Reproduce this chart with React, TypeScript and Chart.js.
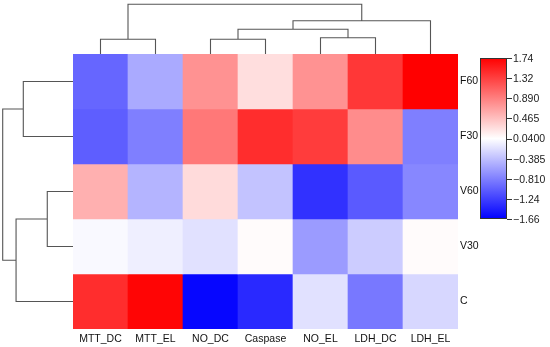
import React, { useEffect, useRef } from "react";
import { Chart, registerables } from "chart.js";

Chart.register(...registerables);

// ---- data ----
const columns = ["MTT_DC", "MTT_EL", "NO_DC", "Caspase", "NO_EL", "LDH_DC", "LDH_EL"];
const rows = ["F60", "F30", "V60", "V30", "C"];
const rowF60 = [-0.98, -0.53, 0.77, 0.26, 0.77, 1.37, 1.74];
const rowF30 = [-1.03, -0.81, 0.94, 1.44, 1.34, 0.81, -0.81];
const rowV60 = [0.57, -0.46, 0.28, -0.36, -1.33, -1.06, -0.76];
const rowV30 = [0.0, -0.07, -0.16, 0.07, -0.63, -0.3, 0.07];
const rowC = [1.44, 1.71, -1.62, -1.39, -0.16, -0.86, -0.23];
const colorbarTicks = [1.74, 1.32, 0.89, 0.465, 0.04, -0.385, -0.81, -1.24, -1.66];
const colorbarLabels = ["1.74", "1.32", "0.890", "0.465", "0.0400", "\u22120.385", "\u22120.810", "\u22121.24", "\u22121.66"];
const colorMin = -1.66;
const colorMax = 1.74;
// dendrogram merges: [childA, childB, height]; leaves are 0..n-1, merges n, n+1, ...
const colMerges = [
  [0, 1, 2.96],
  [2, 3, 2.96],
  [4, 5, 3.28],
  [8, 9, 4.97],
  [10, 6, 6.7],
  [7, 11, 10],
];
const rowMerges = [
  [0, 1, 7.07],
  [2, 3, 3.66],
  [6, 4, 8.1],
  [5, 7, 10],
];

const matrix = [rowF60, rowF30, rowV60, rowV30, rowC];

function colorFor(v: number): string {
  const mid = (colorMin + colorMax) / 2;
  if (v >= mid) {
    const t = Math.min(1, (v - mid) / (colorMax - mid));
    const g = Math.round(255 * (1 - t));
    return `rgb(255,${g},${g})`;
  }
  const t = Math.min(1, (mid - v) / (mid - colorMin));
  const g = Math.round(255 * (1 - t));
  return `rgb(${g},${g},255)`;
}

const FONT = "Arial, 'Liberation Sans', sans-serif";

function drawDendro(
  ctx: CanvasRenderingContext2D,
  merges: number[][],
  leafPos: (i: number) => number,
  nLeaves: number,
  point: (pos: number, h: number) => [number, number]
) {
  const pos: number[] = [];
  const hts: number[] = [];
  for (let i = 0; i < nLeaves; i++) {
    pos.push(leafPos(i));
    hts.push(0);
  }
  ctx.beginPath();
  merges.forEach(([a, b, h]) => {
    const pa = pos[a], pb = pos[b];
    const p1 = point(pa, hts[a]);
    const p2 = point(pa, h);
    const p3 = point(pb, h);
    const p4 = point(pb, hts[b]);
    ctx.moveTo(p1[0], p1[1]);
    ctx.lineTo(p2[0], p2[1]);
    ctx.lineTo(p3[0], p3[1]);
    ctx.lineTo(p4[0], p4[1]);
    pos.push((pa + pb) / 2);
    hts.push(h);
  });
  ctx.stroke();
}

const extrasPlugin = {
  id: "extras",
  afterDraw(chart: any) {
    const ctx: CanvasRenderingContext2D = chart.ctx;
    const area = chart.chartArea;
    const xs = chart.scales.x;
    const ys = chart.scales.y;
    ctx.save();
    ctx.strokeStyle = "#555";
    ctx.lineWidth = 1.1;
    // top dendrogram
    const topMax = Math.max(...colMerges.map((m) => m[2]));
    const topK = (area.top - 4.3) / topMax;
    drawDendro(ctx, colMerges, (i) => xs.getPixelForValue(i), columns.length, (p, h) => [p, area.top - h * topK]);
    // left dendrogram
    const leftMax = Math.max(...rowMerges.map((m) => m[2]));
    const leftK = (area.left - 2.7) / leftMax;
    drawDendro(ctx, rowMerges, (i) => ys.getPixelForValue(i + 0.5), rows.length, (p, h) => [area.left - h * leftK, p]);

    // colorbar
    const cbL = 480, cbR = 507, cbT = 58, cbB = 219;
    const grad = ctx.createLinearGradient(0, cbT, 0, cbB);
    grad.addColorStop(0, colorFor(colorMax));
    grad.addColorStop(0.5, colorFor((colorMax + colorMin) / 2));
    grad.addColorStop(1, colorFor(colorMin));
    ctx.fillStyle = grad;
    ctx.fillRect(cbL, cbT, cbR - cbL, cbB - cbT);
    ctx.strokeStyle = "#333";
    ctx.lineWidth = 1;
    ctx.strokeRect(cbL + 0.5, cbT + 0.5, cbR - cbL - 1, cbB - cbT - 1);
    ctx.fillStyle = "#222";
    ctx.font = `10.5px ${FONT}`;
    ctx.textBaseline = "middle";
    ctx.textAlign = "left";
    colorbarTicks.forEach((v, i) => {
      const y = cbT + ((colorMax - v) / (colorMax - colorMin)) * (cbB - cbT);
      ctx.beginPath();
      ctx.moveTo(cbR, Math.round(y) + 0.5);
      ctx.lineTo(cbR + 5, Math.round(y) + 0.5);
      ctx.stroke();
      ctx.fillText(colorbarLabels[i], cbR + 6, y + 1);
    });
    ctx.restore();
  },
};

export default function App() {
  const ref = useRef<HTMLCanvasElement | null>(null);
  useEffect(() => {
    if (!ref.current) return;
    const chart = new Chart(ref.current, {
      type: "bar",
      data: {
        labels: columns,
        datasets: matrix.map((vals, i) => ({
          label: rows[i],
          data: vals.map(() => [i, i + 1]),
          backgroundColor: vals.map(colorFor),
          borderWidth: 0,
          barPercentage: 1,
          categoryPercentage: 1,
          grouped: false,
        })) as any,
      },
      options: {
        responsive: false,
        animation: false,
        layout: { padding: { left: 73, top: 54, right: 0, bottom: 0 } },
        plugins: { legend: { display: false }, tooltip: { enabled: false } },
        scales: {
          x: {
            grid: { display: false, drawTicks: false },
            border: { display: false },
            ticks: { padding: 4, color: "#111", font: { family: FONT, size: 10.5 }, autoSkip: false, maxRotation: 0 },
            afterFit(s: any) {
              s.height = 18;
            },
          },
          y: {
            position: "right",
            min: 0,
            max: 5,
            reverse: true,
            grid: { display: false, drawTicks: false },
            border: { display: false },
            afterBuildTicks(s: any) {
              s.ticks = rows.map((_, i) => ({ value: i + 0.5 }));
            },
            ticks: {
              padding: 2,
              color: "#111",
              autoSkip: false,
              font: { family: FONT, size: 10.5 },
              callback: (v: any) => rows[Math.floor(Number(v))],
            },
            afterFit(s: any) {
              s.width = 92;
            },
          },
        },
      },
      plugins: [extrasPlugin],
    });
    return () => chart.destroy();
  }, []);
  return (
    <div style={{ position: "absolute", left: 0, top: 0, width: 550, height: 347, background: "#fff" }}>
      <canvas ref={ref} width={550} height={347} style={{ display: "block", width: 550, height: 347 }} />
    </div>
  );
}
